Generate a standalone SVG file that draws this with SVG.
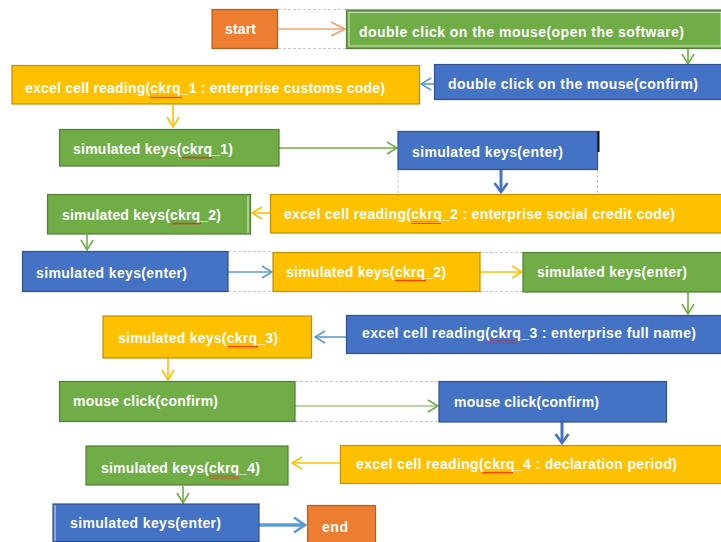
<svg xmlns="http://www.w3.org/2000/svg" width="721" height="542" viewBox="0 0 721 542">
  <style>
    .box { stroke-width: 1.2; }
    .orange { fill: #ED7D31; stroke: #B65D1F; }
    .green { fill: #70AD47; stroke: #507E32; }
    .blue { fill: #4472C4; stroke: #2F528F; }
    .yellow { fill: #FFC000; stroke: #BF9000; }
    .label { font-family: "Liberation Sans", Arial, sans-serif; font-size: 14px; font-weight: bold; fill: #FFFFFF; }
    .guide { fill: none; stroke: #C8C8C8; stroke-width: 1; stroke-dasharray: 3 2; }
    .c { fill: none; }
    .c-green { stroke: #70AD47; stroke-width: 1.6; }
    .c-yellow { stroke: #FFC000; stroke-width: 1.6; }
    .c-lblue { stroke: #5B9BD5; stroke-width: 1.6; }
    .c-lblue-thick { stroke: #5B9BD5; stroke-width: 3.5; }
    .c-blue-thick { stroke: #4472C4; stroke-width: 3; }
    .c-orange { stroke: #F4A070; stroke-width: 1.6; }
    .wave { fill: url(#squiggle); }
  </style>
  <defs>
    <marker id="ah-green" viewBox="0 0 12 14" refX="11" refY="7" markerWidth="12" markerHeight="14" markerUnits="userSpaceOnUse" orient="auto">
      <path d="M1,1 L11,7 L1,13" fill="none" stroke="#70AD47" stroke-width="1.6"/>
    </marker>
    <marker id="ah-yellow" viewBox="0 0 12 14" refX="11" refY="7" markerWidth="12" markerHeight="14" markerUnits="userSpaceOnUse" orient="auto">
      <path d="M1,1 L11,7 L1,13" fill="none" stroke="#FFC000" stroke-width="1.6"/>
    </marker>
    <marker id="ah-lblue" viewBox="0 0 12 14" refX="11" refY="7" markerWidth="12" markerHeight="14" markerUnits="userSpaceOnUse" orient="auto">
      <path d="M1,1 L11,7 L1,13" fill="none" stroke="#5B9BD5" stroke-width="1.6"/>
    </marker>
    <marker id="ah-orange" viewBox="0 0 16 16" refX="15" refY="8" markerWidth="16" markerHeight="16" markerUnits="userSpaceOnUse" orient="auto">
      <path d="M1,1 L15,8 L1,15" fill="none" stroke="#F4A070" stroke-width="1.6"/>
    </marker>
    <marker id="ah-blue-thick" viewBox="0 0 12 16" refX="10" refY="8" markerWidth="12" markerHeight="16" markerUnits="userSpaceOnUse" orient="auto">
      <path d="M1,1.5 L10,8 L1,14.5" fill="none" stroke="#4472C4" stroke-width="2.6"/>
    </marker>
    <marker id="ah-lblue-thick" viewBox="0 0 14 18" refX="12" refY="9" markerWidth="14" markerHeight="18" markerUnits="userSpaceOnUse" orient="auto">
      <path d="M1,1.5 L12,9 L1,16.5" fill="none" stroke="#5B9BD5" stroke-width="2.6"/>
    </marker>
    <!-- spell-check squiggle under the cell references -->
    <pattern id="squiggle" x="0" y="0" width="4" height="3" patternUnits="userSpaceOnUse">
      <path d="M0,2.5 L1,0.8 L2,2.5 L3,0.8 L4,2.5" fill="none" stroke="#E02020" stroke-width="0.8"/>
    </pattern>
  </defs>

  <!-- dashed alignment guides -->
  <g id="guides">
    <path class="guide" d="M278,9.5 H346 M278,48.5 H346"/>
    <path class="guide" d="M398,170 V194 M597.5,170 V194"/>
    <path class="guide" d="M228,251.5 H273 M228,291.5 H273"/>
    <path class="guide" d="M480,252.5 H523 M480,291.5 H523"/>
    <path class="guide" d="M295,381.5 H439 M295,421.5 H439"/>
  </g>

  <!-- connectors -->
  <g id="connectors">
    <path class="c c-orange" d="M278,29 H345" marker-end="url(#ah-orange)"/>
    <path class="c c-green" d="M688,49 V64" marker-end="url(#ah-green)"/>
    <path class="c c-lblue" d="M434,84 H421" marker-end="url(#ah-lblue)"/>
    <path class="c c-yellow" d="M173,105 V127" marker-end="url(#ah-yellow)"/>
    <path class="c c-green" d="M279,148 H397" marker-end="url(#ah-green)"/>
    <path class="c c-blue-thick" d="M501,170 V192" marker-end="url(#ah-blue-thick)"/>
    <path class="c c-yellow" d="M270,213 H252" marker-end="url(#ah-yellow)"/>
    <path class="c c-green" d="M87,235 V250" marker-end="url(#ah-green)"/>
    <path class="c c-lblue" d="M228,272 H272" marker-end="url(#ah-lblue)"/>
    <path class="c c-yellow" d="M480,272 H522" marker-end="url(#ah-yellow)"/>
    <path class="c c-green" d="M688,292 V314" marker-end="url(#ah-green)"/>
    <path class="c c-lblue" d="M346,337 H315" marker-end="url(#ah-lblue)"/>
    <path class="c c-yellow" d="M168,358 V380" marker-end="url(#ah-yellow)"/>
    <path class="c c-green" style="stroke-width:1.2" d="M295,406 H438" marker-end="url(#ah-green)"/>
    <path class="c c-blue-thick" d="M562,422 V443" marker-end="url(#ah-blue-thick)"/>
    <path class="c c-yellow" d="M340,463 H292" marker-end="url(#ah-yellow)"/>
    <path class="c c-green" d="M183,486 V503" marker-end="url(#ah-green)"/>
    <path class="c c-lblue-thick" d="M259,525 H305" marker-end="url(#ah-lblue-thick)"/>
  </g>

  <g id="start">
    <rect class="box orange" x="212" y="9.5" width="65.5" height="39"/>
    <text class="label" x="225" y="34" textLength="31">start</text>
  </g>

  <g id="open-software">
    <rect class="box green" x="346.5" y="10" width="376" height="38.5"/>
    <rect x="349" y="12.5" width="372" height="33.5" fill="none" stroke="#FFFFFF" stroke-width="0.8" opacity="0.8"/>
    <text class="label" x="359" y="37" textLength="325">double click on the mouse(open the software)</text>
  </g>

  <g id="confirm-open">
    <rect class="box blue" x="434.5" y="64.5" width="288" height="35"/>
    <text class="label" x="448" y="89" textLength="250">double click on the mouse(confirm)</text>
  </g>

  <g id="read-ckrq1">
    <rect class="box yellow" x="12" y="65.5" width="407.5" height="38.5"/>
    <text class="label" x="25" y="93" textLength="360">excel cell reading(ckrq_1 : enterprise customs code)</text>
    <rect class="wave" x="150" y="95.5" width="32" height="3"/>
  </g>

  <g id="keys-ckrq1">
    <rect class="box green" x="59.5" y="129.5" width="219.5" height="36.5"/>
    <text class="label" x="73" y="154" textLength="160">simulated keys(ckrq_1)</text>
    <rect class="wave" x="182" y="156" width="30" height="3"/>
  </g>

  <g id="keys-enter-1">
    <rect class="box blue" x="398" y="131.5" width="199.5" height="38"/>
    <path d="M598.5,131 V152" stroke="#111111" stroke-width="2"/>
    <text class="label" x="412" y="157" textLength="151">simulated keys(enter)</text>
  </g>

  <g id="read-ckrq2">
    <rect class="box yellow" x="270.5" y="194.5" width="452" height="38.5"/>
    <text class="label" x="284" y="219" textLength="391">excel cell reading(ckrq_2 : enterprise social credit code)</text>
    <rect class="wave" x="411" y="221" width="30" height="3"/>
  </g>

  <g id="keys-ckrq2-a">
    <rect class="box green" x="47.5" y="194.5" width="203" height="39.5"/>
    <path d="M248,196 V233" stroke="#FFFFFF" stroke-width="0.8"/>
    <text class="label" x="62" y="220" textLength="159">simulated keys(ckrq_2)</text>
    <rect class="wave" x="172" y="222" width="29" height="3"/>
  </g>

  <g id="keys-enter-2">
    <rect class="box blue" x="22.5" y="251.5" width="205.5" height="40"/>
    <text class="label" x="36" y="278" textLength="151">simulated keys(enter)</text>
  </g>

  <g id="keys-ckrq2-b">
    <rect class="box yellow" x="273" y="252.5" width="207" height="39"/>
    <text class="label" x="286" y="277" textLength="160">simulated keys(ckrq_2)</text>
    <rect class="wave" x="395" y="279" width="31" height="3"/>
  </g>

  <g id="keys-enter-3">
    <rect class="box green" x="523" y="252.5" width="199.5" height="39.5"/>
    <text class="label" x="537" y="277" textLength="150">simulated keys(enter)</text>
  </g>

  <g id="read-ckrq3">
    <rect class="box blue" x="346.5" y="315.5" width="376" height="38"/>
    <text class="label" x="362" y="338" textLength="334">excel cell reading(ckrq_3 : enterprise full name)</text>
    <rect class="wave" x="487" y="340.5" width="30" height="3"/>
  </g>

  <g id="keys-ckrq3">
    <rect class="box yellow" x="103" y="316" width="208.5" height="42"/>
    <text class="label" x="118" y="343" textLength="160">simulated keys(ckrq_3)</text>
    <rect class="wave" x="228" y="345.5" width="30" height="3"/>
  </g>

  <g id="click-confirm-a">
    <rect class="box green" x="59.5" y="381.5" width="235.5" height="40"/>
    <text class="label" x="73" y="406" textLength="145">mouse click(confirm)</text>
  </g>

  <g id="click-confirm-b">
    <rect class="box blue" x="439" y="381.5" width="227.5" height="40.5"/>
    <text class="label" x="454" y="407" textLength="145">mouse click(confirm)</text>
  </g>

  <g id="read-ckrq4">
    <rect class="box yellow" x="340.5" y="445.5" width="382" height="38"/>
    <text class="label" x="356" y="469" textLength="321">excel cell reading(ckrq_4 : declaration period)</text>
    <rect class="wave" x="482" y="471.5" width="31" height="3"/>
  </g>

  <g id="keys-ckrq4">
    <rect class="box green" x="86" y="446" width="202" height="39"/>
    <text class="label" x="101" y="473" textLength="159">simulated keys(ckrq_4)</text>
    <rect class="wave" x="209" y="475.5" width="30" height="3"/>
  </g>

  <g id="keys-enter-4">
    <rect class="box blue" x="53" y="504" width="206" height="37.5"/>
    <path d="M55,505 V541" stroke="#FFFFFF" stroke-width="0.8"/>
    <text class="label" x="70" y="528" textLength="151">simulated keys(enter)</text>
  </g>

  <g id="end">
    <rect class="box orange" x="307.5" y="505.5" width="68" height="38"/>
    <text class="label" x="322" y="532" textLength="26">end</text>
  </g>
</svg>
